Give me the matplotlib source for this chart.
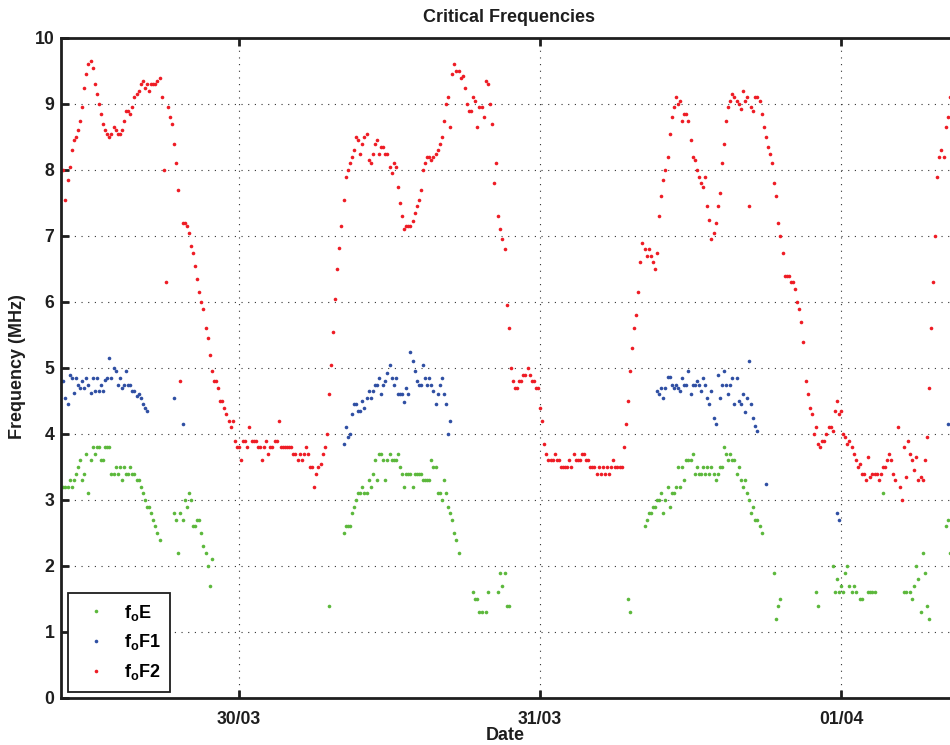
import numpy as np
import matplotlib
matplotlib.use("Agg")
import matplotlib.pyplot as plt
import matplotlib.dates as mdates
from datetime import datetime, timedelta

plt.rcParams['font.family'] = ['Liberation Sans', 'DejaVu Sans']
plt.rcParams['font.weight'] = 'bold'
plt.rcParams['mathtext.fontset'] = 'custom'
plt.rcParams['mathtext.rm'] = 'Liberation Sans:bold'
plt.rcParams['mathtext.bf'] = 'Liberation Sans:bold'
plt.rcParams['mathtext.it'] = 'Liberation Sans:bold'

nan = np.nan
YEAR = 2004
STEP_MIN = 10  # sounding cadence used for the series below

# ---------------- data ----------------
# foF2: one continuous run starting 29/03 10:00, every 10 minutes
f2_start = "29/03 10:00"
f2_values = [
    8.0, 7.55, 7.85, 8.05, 8.3, 8.45, 8.5, 8.6, 8.75, 8.95,
    9.25, 9.45, 9.6, 9.65, 9.55, 9.3, 9.15, 9.0, 8.85, 8.7,
    8.6, 8.55, 8.5, 8.55, 8.65, 8.6, 8.55, 8.55, 8.6, 8.75,
    8.9, 8.9, 8.85, 8.95, 9.1, 9.15, 9.2, 9.3, 9.35, 9.25,
    9.3, 9.2, 9.3, 9.3, 9.3, 9.35, 9.4, 9.1, 8.0, 6.3,
    8.95, 8.8, 8.7, 8.4, 8.1, 7.7, 4.8, 7.2, 7.2, 7.15,
    7.05, 6.85, 6.75, 6.55, 6.35, 6.15, 6.0, 5.9, 5.6, 5.45,
    5.2, 4.95, 4.8, 4.8, 4.7, 4.5, 4.5, 4.4, 4.3, 4.2,
    4.1, 4.2, 3.9, 3.8, 3.8, 3.6, 3.9, 3.9, 3.8, 4.1,
    3.9, 3.9, 3.9, 3.8, 3.8, 3.6, 3.8, 3.9, 3.7, 3.8,
    3.8, 3.9, 3.9, 4.2, 3.8, 3.8, 3.8, 3.8, 3.8, 3.8,
    3.7, 3.7, 3.6, 3.7, 3.6, 3.7, 3.8, 3.7, 3.5, 3.5,
    3.2, 3.4, 3.5, 3.55, 3.7, 3.8, 4.0, 4.6, 5.05, 5.55,
    6.05, 6.5, 6.82, 7.15, 7.55, 7.9, 8.0, 8.1, 8.2, 8.3,
    8.5, 8.45, 8.25, 8.4, 8.5, 8.55, 8.15, 8.1, 8.25, 8.4,
    8.45, 8.25, 8.35, 8.35, 8.25, 8.25, 8.05, 7.95, 8.1, 8.05,
    7.75, 7.5, 7.3, 7.1, 7.15, 7.15, 7.15, 7.22, 7.35, 7.45,
    7.55, 7.7, 8.0, 8.1, 8.2, 8.2, 8.15, 8.2, 8.25, 8.3,
    8.4, 8.5, 8.75, 9.0, 9.1, 8.65, 9.45, 9.6, 9.5, 9.5,
    9.4, 9.42, 9.25, 9.0, 8.9, 8.9, 9.1, 9.05, 8.65, 8.95,
    8.95, 8.8, 9.35, 9.3, 9.0, 8.7, 7.8, 8.1, 7.3, 7.1,
    6.95, 6.8, 5.95, 5.6, 5.0, 4.8, 4.7, 4.7, 4.8, 4.8,
    4.9, 4.9, 5.0, 4.9, 4.8, 4.8, 4.7, 4.7, 4.4, 4.2,
    3.85, 3.7, 3.6, 3.6, 3.6, 3.7, 3.6, 3.6, 3.5, 3.5,
    3.5, 3.5, 3.6, 3.5, 3.7, 3.6, 3.6, 3.6, 3.7, 3.7,
    3.6, 3.6, 3.5, 3.5, 3.5, 3.4, 3.5, 3.4, 3.5, 3.4,
    3.5, 3.4, 3.5, 3.6, 3.5, 3.5, 3.5, 3.5, 3.8, 4.15,
    4.5, 4.95, 5.3, 5.6, 5.8, 6.15, 6.6, 6.9, 6.8, 6.7,
    6.8, 6.7, 6.6, 6.5, 6.75, 7.3, 7.6, 7.85, 8.0, 8.2,
    8.55, 8.8, 8.95, 9.1, 9.0, 9.05, 8.75, 8.85, 8.85, 8.75,
    8.45, 8.2, 8.15, 8.0, 7.9, 7.8, 7.75, 7.9, 7.45, 7.25,
    6.95, 7.05, 7.2, 7.45, 7.65, 8.1, 8.4, 8.75, 8.95, 9.05,
    9.15, 9.1, 9.05, 9.0, 8.92, 9.2, 9.05, 9.1, 7.45, 8.95,
    8.9, 9.1, 9.1, 9.05, 8.85, 8.65, 8.5, 8.35, 8.25, 8.1,
    7.8, 7.6, 7.2, 7.0, 6.75, 6.4, 6.4, 6.4, 6.3, 6.3,
    6.2, 6.0, 5.9, 5.7, 5.4, 4.8, 4.6, 4.4, 4.3, 4.0,
    4.1, 3.85, 3.8, 3.9, 3.9, 4.0, 4.1, 4.1, 4.05, 4.35,
    4.5, 4.3, 4.35, 4.0, 3.95, 3.85, 3.9, 3.8, 3.7, 3.6,
    3.5, 3.55, 3.4, 3.4, 3.3, 3.65, 3.35, 3.4, 3.4, 3.4,
    3.3, 3.4, 3.5, 3.5, 3.6, 3.7, 3.6, 3.4, 3.3, 4.1,
    3.2, 3.0, 3.8, 3.35, 3.9, 3.7, 3.6, 3.45, 3.65, 3.3,
    3.35, 3.3, 3.6, 3.95, 4.7, 5.6, 6.3, 7.0, 7.9, 8.2,
    8.3, 8.2, 8.65, 8.8, 9.1,
]

# foF1: daytime runs (10-minute steps from each start)
f1_day1_start = "29/03 10:00"
f1_day1 = [4.8, 4.55, 4.45, 4.9, 4.85, 4.62, 4.85, 4.75, 4.7, 4.8,
           4.7, 4.85, 4.75, 4.62, 4.85, 4.65, 4.85, 4.65, 4.75, 4.65,
           4.82, 4.85, 5.15, 4.85, 5.0, 4.95, 4.75, 4.85, 4.7, 4.75,
           4.95, 4.75, 4.75, 4.65, 4.65, 4.57, 4.6, 4.55, 4.45, 4.4, 4.35]
f1_eve1_start = "29/03 18:50"
f1_eve1 = [4.55, nan, nan, nan, 4.15]
f1_day2_start = "30/03 08:20"
f1_day2 = [3.85, 4.1, 3.95, 4.0, 4.3, 4.45, 4.45, 4.35, 4.35, 4.5,
           4.4, 4.55, 4.65, 4.55, 4.65, 4.75, 4.75, 4.85, 4.6, 4.75,
           4.8, 4.93, 5.05, 4.85, 4.75, 4.85, 4.6, 4.6, 4.6, 4.48,
           4.7, 4.6, 5.25, 5.1, 4.95, 4.8, 4.75, 4.75, 5.05, 4.85,
           4.75, 4.85, 4.75, 4.65, 4.45, 4.6, 4.75, 4.85, 4.6, 4.45, 4.0, 4.2]
f1_day3_start = "31/03 09:20"
f1_day3 = [4.65, 4.6, 4.7, 4.55, 4.7, 4.87, 4.87, 4.75, 4.7, 4.75,
           4.7, 4.65, 4.85, 4.75, 4.75, 4.95, 4.6, 4.75, 4.75, 4.8,
           4.75, 4.65, 4.85, 4.75, 4.55, 4.45, 4.65, 4.25, 4.15, 4.9,
           4.55, 4.75, 4.95, 4.75, 4.6, 4.75, 4.85, 4.45, 4.85, 4.5,
           4.45, 4.6, 4.33, 4.55, 5.1, 4.45, 4.25, 4.12, 4.05]
f1_eve3_start = "31/03 18:00"
f1_eve3 = [3.25]
f1_night3_start = "31/03 23:40"
f1_night3 = [2.8, 2.7]
f1_day4_start = "01/04 08:30"
f1_day4 = [4.15]

# foE runs (10-minute steps from each start)
e_day1_start = "29/03 10:00"
e_day1 = [3.2, 3.2, 3.2, 3.3, 3.2, 3.3, 3.4, 3.5, 3.6, 3.3,
          3.4, 3.7, 3.1, 3.6, 3.8, 3.7, 3.8, 3.8, 3.6, 3.6,
          3.8, 3.8, 3.8, 3.4, 3.4, 3.5, 3.4, 3.5, 3.3, 3.5,
          3.4, 3.4, 3.5, 3.4, 3.4, 3.3, 3.3, 3.2, 3.1, 3.0,
          2.9, 2.9, 2.8, 2.7, 2.6, 2.5, 2.4]
e_eve1_start = "29/03 18:50"
e_eve1 = [2.8, 2.7, 2.2, 2.8, 2.7, 3.0, 2.9, 3.1, 3.0, 2.6,
          2.6, 2.7, 2.7, 2.5, 2.3, 2.2, 2.0, 1.7, 2.1]
e_dawn2_start = "30/03 07:10"
e_dawn2 = [1.4]
e_day2_start = "30/03 08:20"
e_day2 = [2.5, 2.6, 2.6, 2.6, 2.8, 2.9, 3.0, 3.1, 3.1, 3.2,
          3.1, 3.1, 3.3, 3.2, 3.4, 3.6, 3.3, 3.7, 3.7, 3.6,
          3.3, 3.6, 3.7, 3.6, 3.6, 3.6, 3.7, 3.5, 3.4, 3.2,
          3.4, 3.4, 3.4, 3.2, 3.4, 3.4, 3.4, 3.4, 3.3, 3.3,
          3.3, 3.3, 3.6, 3.5, 3.5, 3.1, 3.1, 3.0, 3.3, 3.1,
          2.9, 2.8, 2.7, 2.5, 2.4, 2.2]
e_eve2_start = "30/03 18:40"
e_eve2 = [1.6, 1.5, 1.5, 1.3, 1.3, nan, 1.3, 1.6, nan, nan,
          nan, nan, 1.6, 1.9, 1.7, 1.9, 1.4, 1.4]
e_dawn3_start = "31/03 07:00"
e_dawn3 = [1.5, 1.3]
e_day3_start = "31/03 08:20"
e_day3 = [2.6, 2.7, 2.8, 2.8, 2.9, 2.9, 3.0, 3.0, 3.1, 2.8,
          3.0, 3.2, 2.9, 3.1, 3.1, 3.2, 3.5, 3.2, 3.5, 3.3,
          3.6, 3.6, 3.6, 3.7, 3.4, 3.5, 3.4, 3.4, 3.5, 3.4,
          3.5, 3.4, 3.5, 3.4, 3.3, 3.4, 3.5, 3.5, 3.8, 3.7,
          3.6, 3.7, 3.6, 3.6, 3.4, 3.5, 3.3, 3.2, 3.3, 3.1,
          3.0, 2.8, 2.9, 2.7, 2.7, 2.6, 2.5]
e_eve3_start = "31/03 18:40"
e_eve3 = [1.9, 1.2, 1.4, 1.5]
e_late3_start = "31/03 22:00"
e_late3 = [1.6, 1.4]
e_night3_start = "31/03 23:20"
e_night3 = [2.0, 1.6, 1.8, 1.6, 1.7, 1.6, 1.9, 2.0, 1.7, 1.6,
            1.7, 1.6, nan, 1.5, 1.5, nan, nan, 1.6, 1.6, 1.6, 1.6]
e_night4_start = "01/04 03:20"
e_night4 = [3.1]
e_dawn4_start = "01/04 05:00"
e_dawn4 = [1.6, 1.6, nan, 1.6, 1.5, 1.7, 2.0, 1.8, 1.3, 2.2, 1.9, 1.4, 1.2]
e_day4_start = "01/04 08:20"
e_day4 = [2.6, 2.7, 2.2]

x_ticks = ["30/03 00:00", "31/03 00:00", "01/04 00:00"]
y_ticks = list(range(0, 11))
x_range = ("29/03 09:50", "01/04 12:40")
y_range = (0, 10)
legend_labels = [r'$\mathbf{f}_\mathbf{o}\mathbf{E}$',
                 r'$\mathbf{f}_\mathbf{o}\mathbf{F1}$',
                 r'$\mathbf{f}_\mathbf{o}\mathbf{F2}$']


def when(s):
    return datetime.strptime(f"{s} {YEAR}", "%d/%m %H:%M %Y")


def expand(segments):
    times, vals = [], []
    for start, values in segments:
        t0 = when(start)
        for k, v in enumerate(values):
            times.append(t0 + timedelta(minutes=STEP_MIN * k))
            vals.append(v)
    return times, np.array(vals, dtype=float)


e_t, e_v = expand([(e_day1_start, e_day1), (e_eve1_start, e_eve1),
                   (e_dawn2_start, e_dawn2), (e_day2_start, e_day2),
                   (e_eve2_start, e_eve2), (e_dawn3_start, e_dawn3),
                   (e_day3_start, e_day3), (e_eve3_start, e_eve3),
                   (e_late3_start, e_late3), (e_night3_start, e_night3),
                   (e_night4_start, e_night4), (e_dawn4_start, e_dawn4),
                   (e_day4_start, e_day4)])
f1_t, f1_v = expand([(f1_day1_start, f1_day1), (f1_eve1_start, f1_eve1),
                     (f1_day2_start, f1_day2), (f1_day3_start, f1_day3),
                     (f1_eve3_start, f1_eve3), (f1_night3_start, f1_night3),
                     (f1_day4_start, f1_day4)])
f2_t, f2_v = expand([(f2_start, f2_values)])

# ---------------- figure ----------------
W, H = 950, 745
fig = plt.figure(figsize=(W / 100, H / 100), dpi=100)
ax_left, ax_right, ax_top, ax_bottom = 61.3, 1000.0, 38.0, 698.0
ax = fig.add_axes([ax_left / W, 1 - ax_bottom / H,
                   (ax_right - ax_left) / W, (ax_bottom - ax_top) / H])

green, blue, red = '#5cb83c', '#2f4fa3', '#ee1c25'
ms = 2.6
ax.plot(e_t, e_v, linestyle='none', marker='o', ms=ms, mew=0, color=green,
        label=legend_labels[0])
ax.plot(f1_t, f1_v, linestyle='none', marker='o', ms=ms, mew=0, color=blue,
        label=legend_labels[1])
ax.plot(f2_t, f2_v, linestyle='none', marker='o', ms=ms, mew=0, color=red,
        label=legend_labels[2])

ax.set_xlim(when(x_range[0]), when(x_range[1]))
ax.set_ylim(*y_range)
ax.set_xticks([when(s) for s in x_ticks])
ax.xaxis.set_major_formatter(mdates.DateFormatter('%d/%m'))
ax.set_yticks(y_ticks)
ax.set_yticklabels([str(v) for v in y_ticks])

ax.grid(True, linestyle=(0, (1, 5)), color='#333333', linewidth=0.8)
for sp in ax.spines.values():
    sp.set_linewidth(2.0)
    sp.set_color('#1e1e1e')
ax.tick_params(direction='in', length=6, width=2.0, top=True, right=True,
               labelsize=12.7, colors='#1e1e1e', labelcolor='#1e1e1e')
ax.tick_params(axis='x', pad=9)
ax.tick_params(axis='y', pad=5)

fig.text(509 / W, 1 - 17 / H, "Critical Frequencies", ha='center', va='center',
         fontsize=13, fontweight='bold', color='#1e1e1e')
fig.text(505 / W, 1 - 736 / H, "Date", ha='center', va='center',
         fontsize=13, fontweight='bold', color='#1e1e1e')
fig.text(18 / W, 1 - 367 / H, "Frequency (MHz)", ha='center', va='center',
         rotation=90, fontsize=13, fontweight='bold', color='#1e1e1e')

leg = ax.legend(loc='lower left',
                bbox_to_anchor=((67.7 - ax_left) / (ax_right - ax_left),
                                (ax_bottom - 692.3) / (ax_bottom - ax_top)),
                borderaxespad=0, fancybox=False, framealpha=1,
                edgecolor='#1e1e1e', fontsize=13, handlelength=2.0,
                handletextpad=0.55, borderpad=0.55, labelspacing=0.55,
                markerscale=1.0)
leg.get_frame().set_linewidth(1.3)

fig.savefig('out.png', dpi=100)
